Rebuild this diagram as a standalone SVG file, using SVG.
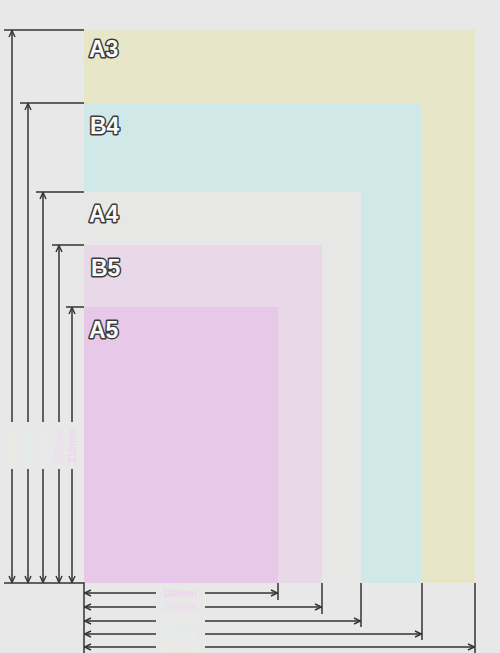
<svg xmlns="http://www.w3.org/2000/svg" width="500" height="653" viewBox="0 0 500 653">
<defs>
<marker id="arr" viewBox="0 0 8 8" refX="7.5" refY="4" markerWidth="8" markerHeight="8" markerUnits="userSpaceOnUse" orient="auto">
<path d="M1,1 L7.5,4 L1,7" fill="none" stroke="#333" stroke-width="1.4"/>
</marker>
<style>
.lbl{font-family:"Liberation Sans",Arial,sans-serif;font-weight:bold;font-size:23px;fill:#fafafa;stroke:#3a3a3a;stroke-width:3px;paint-order:stroke;stroke-linejoin:round}
.dim{stroke:#333;stroke-width:1.5;fill:none}
.ext{stroke:#333;stroke-width:1.5;fill:none}
.dt{font-family:"Liberation Sans",Arial,sans-serif;font-size:10px;font-weight:bold;text-anchor:middle}
</style>
</defs>
<rect x="0" y="0" width="500" height="653" fill="#e8e8e8"/>
<g id="A3"><rect x="84" y="30" width="391" height="553" fill="#e8e6c8"/><text class="lbl" x="89" y="57">A3</text></g>
<g id="B4"><rect x="84" y="103" width="338" height="480" fill="#d0e8e8"/><text class="lbl" x="90" y="134">B4</text></g>
<g id="A4"><rect x="84" y="192" width="277" height="391" fill="#e7e7e5"/><text class="lbl" x="89" y="222">A4</text></g>
<g id="B5"><rect x="84" y="245" width="238" height="338" fill="#e8d8e8"/><text class="lbl" x="91" y="276">B5</text></g>
<g id="A5"><rect x="84" y="307" width="194" height="276" fill="#e8c8e8"/><text class="lbl" x="89" y="338">A5</text></g>
<g id="connectors">
<path class="ext" d="M4,30 H84 M20,103 H84 M36,192 H84 M52,245 H84 M66,307 H84 M4,583 H84 V653"/>
<path class="ext" d="M278,583 V600 M322,583 V614 M361,583 V627 M422,583 V640 M475,583 V653"/>
<path class="dim" marker-end="url(#arr)" d="M12,422 V30.5"/>
<path class="dim" marker-end="url(#arr)" d="M12,469 V582.5"/>
<path class="dim" marker-end="url(#arr)" d="M28,422 V103.5"/>
<path class="dim" marker-end="url(#arr)" d="M28,469 V582.5"/>
<path class="dim" marker-end="url(#arr)" d="M43,422 V192.5"/>
<path class="dim" marker-end="url(#arr)" d="M43,469 V582.5"/>
<path class="dim" marker-end="url(#arr)" d="M59,422 V245.5"/>
<path class="dim" marker-end="url(#arr)" d="M59,469 V582.5"/>
<path class="dim" marker-end="url(#arr)" d="M72,422 V307.5"/>
<path class="dim" marker-end="url(#arr)" d="M72,469 V582.5"/>
<path class="dim" marker-end="url(#arr)" d="M156,593 H84.5"/>
<path class="dim" marker-end="url(#arr)" d="M205,593 H277.5"/>
<path class="dim" marker-end="url(#arr)" d="M156,607 H84.5"/>
<path class="dim" marker-end="url(#arr)" d="M205,607 H321.5"/>
<path class="dim" marker-end="url(#arr)" d="M156,621 H84.5"/>
<path class="dim" marker-end="url(#arr)" d="M205,621 H360.5"/>
<path class="dim" marker-end="url(#arr)" d="M156,634 H84.5"/>
<path class="dim" marker-end="url(#arr)" d="M205,634 H421.5"/>
<path class="dim" marker-end="url(#arr)" d="M156,647 H84.5"/>
<path class="dim" marker-end="url(#arr)" d="M205,647 H474.5"/>
</g>
<g id="dim-labels">
<text class="dt" x="180" y="597" fill="#efd6ef">148mm</text>
<text class="dt" x="180" y="611" fill="#ecdeec">182mm</text>
<text class="dt" x="180" y="625" fill="#ebebea">210mm</text>
<text class="dt" x="180" y="638" fill="#e4eeee">257mm</text>
<text class="dt" x="180" y="651" fill="#edecde">297mm</text>
<text class="dt" transform="translate(15.5,446) rotate(-90)" fill="#edecde">420mm</text>
<text class="dt" transform="translate(31.5,446) rotate(-90)" fill="#e4eeee">364mm</text>
<text class="dt" transform="translate(46.5,446) rotate(-90)" fill="#ebebea">297mm</text>
<text class="dt" transform="translate(62.5,446) rotate(-90)" fill="#ecdeec">257mm</text>
<text class="dt" transform="translate(75.5,446) rotate(-90)" fill="#efd6ef">210mm</text>
</g>
</svg>
